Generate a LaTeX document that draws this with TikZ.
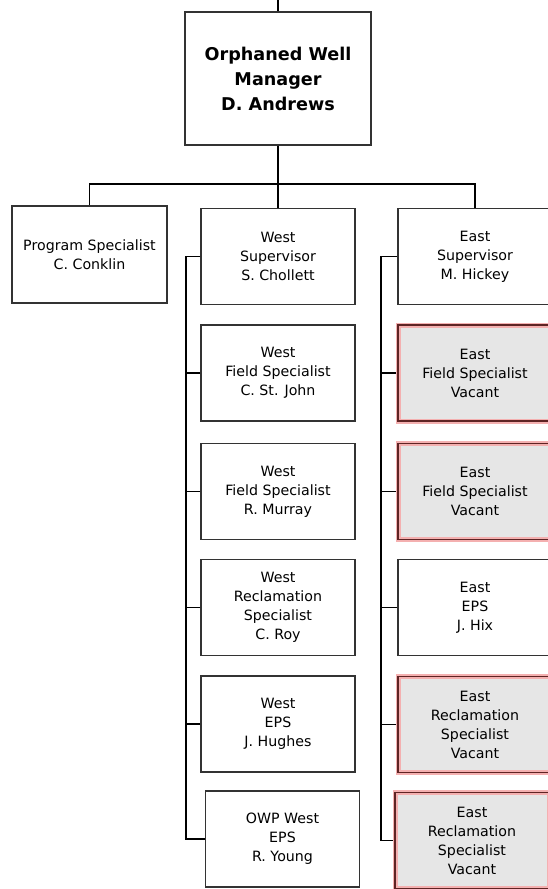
\documentclass[tikz,border=0pt]{standalone}
\usepackage{fontspec}
\setmainfont{DejaVu Sans}
\usepackage{tikz}
\definecolor{vacfill}{HTML}{E6E6E6}
\definecolor{vacline}{HTML}{5E2424}
\definecolor{vacglow}{HTML}{F4B0B0}
\tikzstyle{post}=[draw=black!80, line width=1.3pt, fill=white, minimum width=154pt, minimum height=96pt, align=center, inner sep=0pt, font=\fontsize{14.2}{19}\selectfont]
\tikzstyle{vacant}=[post, draw=vacglow, fill=vacfill, line width=5pt, postaction={draw=vacline, line width=1.3pt}]
\tikzstyle{head}=[post, minimum width=186pt, minimum height=133pt, font=\bfseries\fontsize{17.6}{25}\selectfont]
\tikzstyle{link}=[draw=black, line width=1.2pt]

\begin{document}
\begin{tikzpicture}[x=1pt, y=-1pt]
	\useasboundingbox (0,0) rectangle (548,889);
	\begin{scope}
		\coordinate (top) at (278,0);
		\node (mgr) at (278,78.5)[head] {Orphaned Well\\Manager\\D. Andrews};
		\node (prog) at (89.5,254.5)[post, minimum width=155pt, minimum height=97pt] {Program Specialist\\C. Conklin};
		\node (wsup) at (278,256.5)[post] {West\\Supervisor\\S. Chollett};
		\node (esup) at (475,256.5)[post] {East\\Supervisor\\M. Hickey};
		% west team
		\node (wfs1) at (278,373)[post] {West\\Field Specialist\\C. St. John};
		\node (wfs2) at (278,491.5)[post] {West\\Field Specialist\\R. Murray};
		\node (wrec) at (278,607.5)[post] {West\\Reclamation\\Specialist\\C. Roy};
		\node (weps) at (278,724)[post] {West\\EPS\\J. Hughes};
		\node (wowp) at (282.5,839)[post] {OWP West\\EPS\\R. Young};
		% east team
		\node (efs1) at (475,373)[vacant] {East\\Field Specialist\\Vacant};
		\node (efs2) at (475,491.5)[vacant] {East\\Field Specialist\\Vacant};
		\node (eeps) at (475,607.5)[post] {East\\EPS\\J. Hix};
		\node (erec1) at (475,724.5)[vacant] {East\\Reclamation\\Specialist\\Vacant};
		\node (erec2) at (472,840.5)[vacant] {East\\Reclamation\\Specialist\\Vacant};
		\coordinate (hbar) at (278,184);
		\coordinate (wbus) at (186,0);
		\coordinate (ebus) at (381,0);
	\end{scope}
	\begin{scope}
		\draw[link] (top) -- (mgr.north);
		\draw[link] (mgr.south) -- (wsup.north);
		\draw[link] (prog.north) |- (hbar) -| (esup.north);
		\draw[link] (wsup.west) -- (wsup.west -| wbus) |- (wowp.west);
		\draw[link] (esup.west) -- (esup.west -| ebus) |- (erec2.west);
		\foreach \n in {wfs1, wfs2, wrec, weps}
			\draw[link] (\n.west) -- (\n.west -| wbus);
		\foreach \n in {efs1, efs2, eeps, erec1}
			\draw[link] (\n.west) -- (\n.west -| ebus);
	\end{scope}
\end{tikzpicture}
\end{document}
